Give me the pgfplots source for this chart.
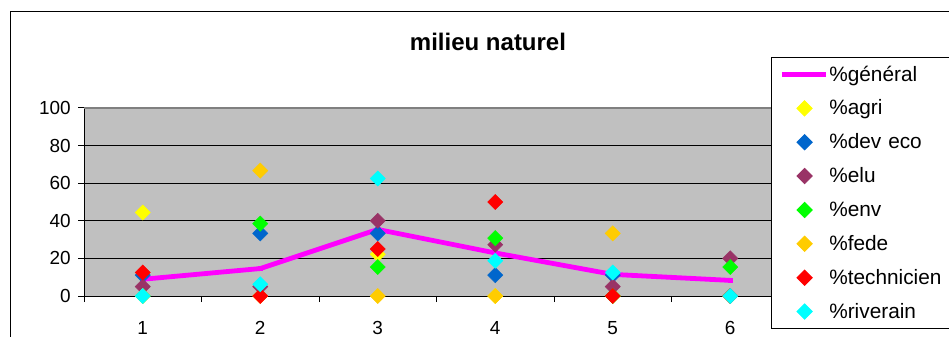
\documentclass[border=0pt]{standalone}
\usepackage{pgfplots}
\pgfplotsset{compat=1.18}
\usepackage{fontspec}
\setmainfont{Liberation Sans}
\definecolor{plotbg}{HTML}{C0C0C0}
\definecolor{cagri}{HTML}{FFFF00}
\definecolor{cdev}{HTML}{0066CC}
\definecolor{celu}{HTML}{993366}
\definecolor{cenv}{HTML}{00FF00}
\definecolor{cfede}{HTML}{FFCC00}
\definecolor{ctech}{HTML}{FF0000}
\definecolor{criv}{HTML}{00FFFF}
\definecolor{cgen}{HTML}{FF00FF}
\newcommand{\chfont}{\fontsize{14.2}{17}\selectfont}
\newcommand{\legfont}{\fontsize{15.6}{18}\selectfont}
\pgfplotsset{
  genleg/.style={legend image code/.code={\path (0pt,0pt) (39pt,0pt); \draw[##1, line width=3.6pt, mark repeat=2, mark phase=2] plot coordinates {(6pt,0pt)(22.5pt,0pt)(39pt,0pt)};}},
  markleg/.style={legend image code/.code={\path (0pt,0pt) (39pt,0pt); \draw[##1] plot coordinates {(23pt,0pt)};}},
  dia/.style={only marks, mark=square*, markleg, mark options={rotate=45, draw=#1, fill=#1}},
}
\begin{document}
\begin{tikzpicture}
\useasboundingbox (0,0) rectangle (711.75pt,252pt);
\clip (0,0) rectangle (711.75pt,252pt);
\fill[white] (0,0) rectangle (711.75pt,252pt);
\draw[line width=0.75pt] (7.5pt,-10pt) -- (7.5pt,243pt) -- (730pt,243pt);
\node[font=\fontsize{18}{21}\selectfont\bfseries] at (366pt,220.5pt) {milieu naturel};
\begin{axis}[
  at={(63pt,30pt)}, anchor=south west,
  scale only axis, width=528.75pt, height=141pt,
  xmin=0.5, xmax=6.5, ymin=0, ymax=100,
  xtick={1,...,6}, ytick={0,20,...,100},
  minor xtick={0.5,1.5,...,6.5},
  major x tick style={draw=none},
  tick align=outside,
  major tick length=4.5pt, minor tick length=4.5pt,
  tick style={black, line width=0.75pt},
  ymajorgrids, grid style={black, line width=0.75pt},
  axis background/.style={fill=plotbg},
  axis x line*=bottom, axis y line*=left,
  axis line style={black, line width=0.75pt, -},
  ticklabel style={font=\chfont},
  /pgf/number format/assume math mode=true,
  xticklabel style={yshift=-11pt},
  yticklabel style={xshift=-2pt},
  clip=false,
  legend style={at={(0.9745,1.271)}, anchor=north west, draw=black, line width=0.75pt, fill=white,
    font=\legfont, inner sep=0pt, row sep=0pt, column sep=0.75pt,
    nodes={inner sep=0pt, minimum height=25.4pt, anchor=west, text width=150pt}},
  legend cell align=left,
  mark size=4pt,
]
\draw[draw=gray, line width=1.5pt] (rel axis cs:0,1) -- (rel axis cs:1,1);
\addplot[cgen, line width=3.6pt, mark=square*, mark size=1.6pt, mark options={solid, line width=0.5pt}, genleg]
  coordinates {(1,8.9)(2,14.6)(3,35.4)(4,22.9)(5,11.5)(6,8.3)};
\addlegendentry{\%général}
\addplot[dia=cagri] coordinates {(1,44.4)(2,0)(3,22.2)(4,0)(5,0)(6,0)};
\addlegendentry{\%agri}
\addplot[dia=cdev] coordinates {(1,11.1)(2,33.3)(3,33.3)(4,11.1)(5,11.1)(6,0)};
\addlegendentry{\%dev eco}
\addplot[dia=celu] coordinates {(1,5)(2,5)(3,40)(4,27.3)(5,5)(6,20)};
\addlegendentry{\%elu}
\addplot[dia=cenv] coordinates {(1,0)(2,38.5)(3,15.4)(4,30.8)(5,0)(6,15.4)};
\addlegendentry{\%env}
\addplot[dia=cfede] coordinates {(1,0)(2,66.7)(3,0)(4,0)(5,33.3)(6,0)};
\addlegendentry{\%fede}
\addplot[dia=ctech] coordinates {(1,12.5)(2,0)(3,25)(4,50)(5,0)(6,0)};
\addlegendentry{\%technicien}
\addplot[dia=criv] coordinates {(1,0)(2,6.25)(3,62.5)(4,18.75)(5,12.5)(6,0)};
\addlegendentry{\%riverain}
\end{axis}
\end{tikzpicture}
\end{document}
